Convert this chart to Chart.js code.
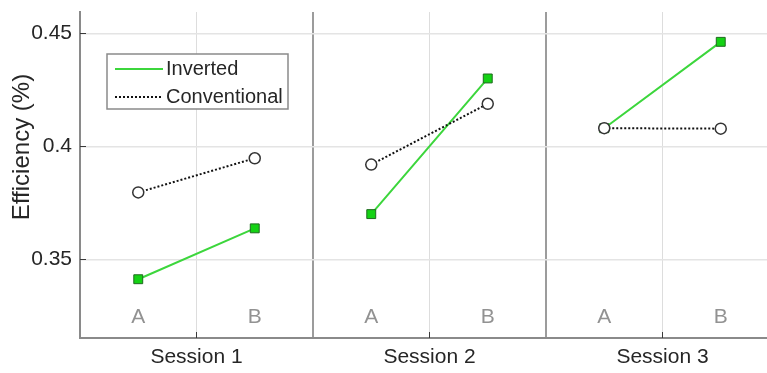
<!DOCTYPE html>
<html>
<head>
<meta charset="utf-8">
<title>Efficiency by session</title>
<script src="https://cdn.jsdelivr.net/npm/chart.js@4.4.1/dist/chart.umd.min.js"></script>
<style>
  html, body { margin: 0; padding: 0; background: #ffffff; overflow: hidden; }
  canvas { display: block; }
</style>
</head>
<body>
<canvas id="chart" width="767" height="373" style="width:767px;height:373px"></canvas>
<script>
// Sessions and the two conditions measured in each one
const sessions = ['Session 1', 'Session 2', 'Session 3'];
const conditions = ['A', 'B'];

// Efficiency values, ordered session by session: [S1 A, S1 B, S2 A, S2 B, S3 A, S3 B]
const inverted = [0.3412, 0.3637, 0.3700, 0.4300, 0.4080, 0.4462];
const conventional = [0.3796, 0.3947, 0.3919, 0.4188, 0.4080, 0.4078];

// Y axis ticks
const yTicks = [0.35, 0.4, 0.45];
const yTickLabels = ['0.35', '0.4', '0.45'];

const seriesNames = ['Inverted', 'Conventional'];
const yTitle = 'Efficiency (%)';

// Styling / layout
const FONT = "'Liberation Sans', Arial, Helvetica, sans-serif";
const TEXT = '#262626';
const GREEN_LINE = '#3cd63c';
const GREEN_FILL = '#14d214';
const GREEN_EDGE = '#1f6a1f';
const conditionOffset = [0.25, 0.75];   // where A and B sit inside a session slot
const conditionLabelLevel = 0.3245;     // height of the A / B captions
const Y_MIN = 0.3152, Y_MAX = 0.4594;
const X_MAX = 2.9485;                   // session 3 runs off the right edge

// One point per (session, condition); a null between sessions breaks the line
function toPoints(values) {
  const pts = [];
  sessions.forEach((s, i) => {
    conditions.forEach((c, j) => {
      pts.push({ x: i + conditionOffset[j], y: values[i * conditions.length + j] });
    });
    if (i < sessions.length - 1) pts.push({ x: i + 1, y: null });
  });
  return pts;
}

const decorations = {
  id: 'decorations',
  beforeDatasetsDraw(chart) {
    const { ctx, chartArea: a, scales: { x, y } } = chart;
    ctx.save();
    // A / B captions inside each session
    ctx.font = `21px ${FONT}`;
    ctx.fillStyle = '#929292';
    ctx.textAlign = 'center';
    ctx.textBaseline = 'middle';
    const ly = y.getPixelForValue(conditionLabelLevel);
    sessions.forEach((s, i) => conditions.forEach((c, j) => {
      ctx.fillText(c, x.getPixelForValue(i + conditionOffset[j]), ly);
    }));
    // inward tick marks
    ctx.strokeStyle = '#3a3a3a';
    ctx.lineWidth = 1;
    yTicks.forEach(v => {
      const py = Math.round(y.getPixelForValue(v)) + 0.5;
      ctx.beginPath(); ctx.moveTo(a.left, py); ctx.lineTo(a.left + 6, py); ctx.stroke();
    });
    sessions.forEach((s, i) => {
      const px = Math.round(x.getPixelForValue(i + 0.5)) + 0.5;
      ctx.beginPath(); ctx.moveTo(px, a.bottom); ctx.lineTo(px, a.bottom - 6); ctx.stroke();
    });
    ctx.restore();
  },
  afterDraw(chart) {
    const { ctx } = chart;
    ctx.save();
    // y axis title
    ctx.translate(22, 147);
    ctx.rotate(-Math.PI / 2);
    ctx.font = `24px ${FONT}`;
    ctx.fillStyle = TEXT;
    ctx.textAlign = 'center';
    ctx.textBaseline = 'middle';
    ctx.fillText(yTitle, 0, 0);
    ctx.restore();

    // legend box
    ctx.save();
    ctx.fillStyle = '#ffffff';
    ctx.strokeStyle = '#8a8a8a';
    ctx.lineWidth = 1.5;
    ctx.fillRect(107, 54, 181, 55);
    ctx.strokeRect(107, 54, 181, 55);
    ctx.lineWidth = 2;
    ctx.strokeStyle = GREEN_LINE;
    ctx.beginPath(); ctx.moveTo(115, 69); ctx.lineTo(163, 69); ctx.stroke();
    ctx.strokeStyle = '#111111';
    ctx.setLineDash([2, 2]);
    ctx.beginPath(); ctx.moveTo(115, 97); ctx.lineTo(163, 97); ctx.stroke();
    ctx.setLineDash([]);
    ctx.font = `20px ${FONT}`;
    ctx.fillStyle = TEXT;
    ctx.textAlign = 'left';
    ctx.textBaseline = 'middle';
    ctx.fillText(seriesNames[0], 166, 69);
    ctx.fillText(seriesNames[1], 166, 97);
    ctx.restore();
  }
};

new Chart(document.getElementById('chart'), {
  type: 'line',
  data: {
    datasets: [
      {
        label: seriesNames[0],
        data: toPoints(inverted),
        order: 1,
        borderColor: GREEN_LINE,
        borderWidth: 2,
        pointStyle: 'rect',
        pointRadius: 6.3,
        pointBorderWidth: 1,
        pointBackgroundColor: GREEN_FILL,
        pointBorderColor: GREEN_EDGE,
        spanGaps: false,
        tension: 0
      },
      {
        label: seriesNames[1],
        data: toPoints(conventional),
        order: 0,
        borderColor: '#111111',
        borderWidth: 2,
        borderDash: [2, 2],
        pointStyle: 'circle',
        pointRadius: 5.5,
        pointBorderWidth: 1.5,
        pointBackgroundColor: '#ffffff',
        pointBorderColor: '#333333',
        spanGaps: false,
        tension: 0
      }
    ]
  },
  options: {
    responsive: false,
    animation: false,
    devicePixelRatio: 1,
    layout: { autoPadding: false, padding: { top: 12, left: 0, right: 0, bottom: 0 } },
    plugins: { legend: { display: false }, tooltip: { enabled: false } },
    scales: {
      x: {
        type: 'linear',
        min: 0,
        max: X_MAX,
        afterBuildTicks(s) {
          const vals = [];
          sessions.forEach((n, i) => { vals.push(i + 0.5); if (i < sessions.length - 1) vals.push(i + 1); });
          s.ticks = vals.map(v => ({ value: v }));
        },
        afterFit(s) { s.height = 35; s.paddingLeft = 0; s.paddingRight = 0; },
        ticks: {
          autoSkip: false,
          maxRotation: 0,
          padding: 7,
          color: TEXT,
          font: { family: FONT, size: 21 },
          callback: v => (v % 1 ? sessions[Math.floor(v)] : '')
        },
        grid: {
          drawTicks: false,
          color: c => (c.tick && c.tick.value % 1 === 0 ? '#9c9c9c' : '#dddddd'),
          lineWidth: c => (c.tick && c.tick.value % 1 === 0 ? 2 : 1)
        },
        border: { display: true, color: '#8a8a8a', width: 2 }
      },
      y: {
        min: Y_MIN,
        max: Y_MAX,
        afterBuildTicks(s) { s.ticks = yTicks.map(v => ({ value: v })); },
        afterFit(s) { s.width = 80; s.paddingTop = 0; s.paddingBottom = 0; },
        ticks: {
          padding: 8,
          color: TEXT,
          font: { family: FONT, size: 21 },
          callback: v => { const k = yTicks.indexOf(v); return k >= 0 ? yTickLabels[k] : ''; }
        },
        grid: { drawTicks: false, color: '#e4e4e4', lineWidth: 1.5 },
        border: { display: true, color: '#8a8a8a', width: 2 }
      }
    }
  },
  plugins: [decorations]
});
</script>
</body>
</html>
